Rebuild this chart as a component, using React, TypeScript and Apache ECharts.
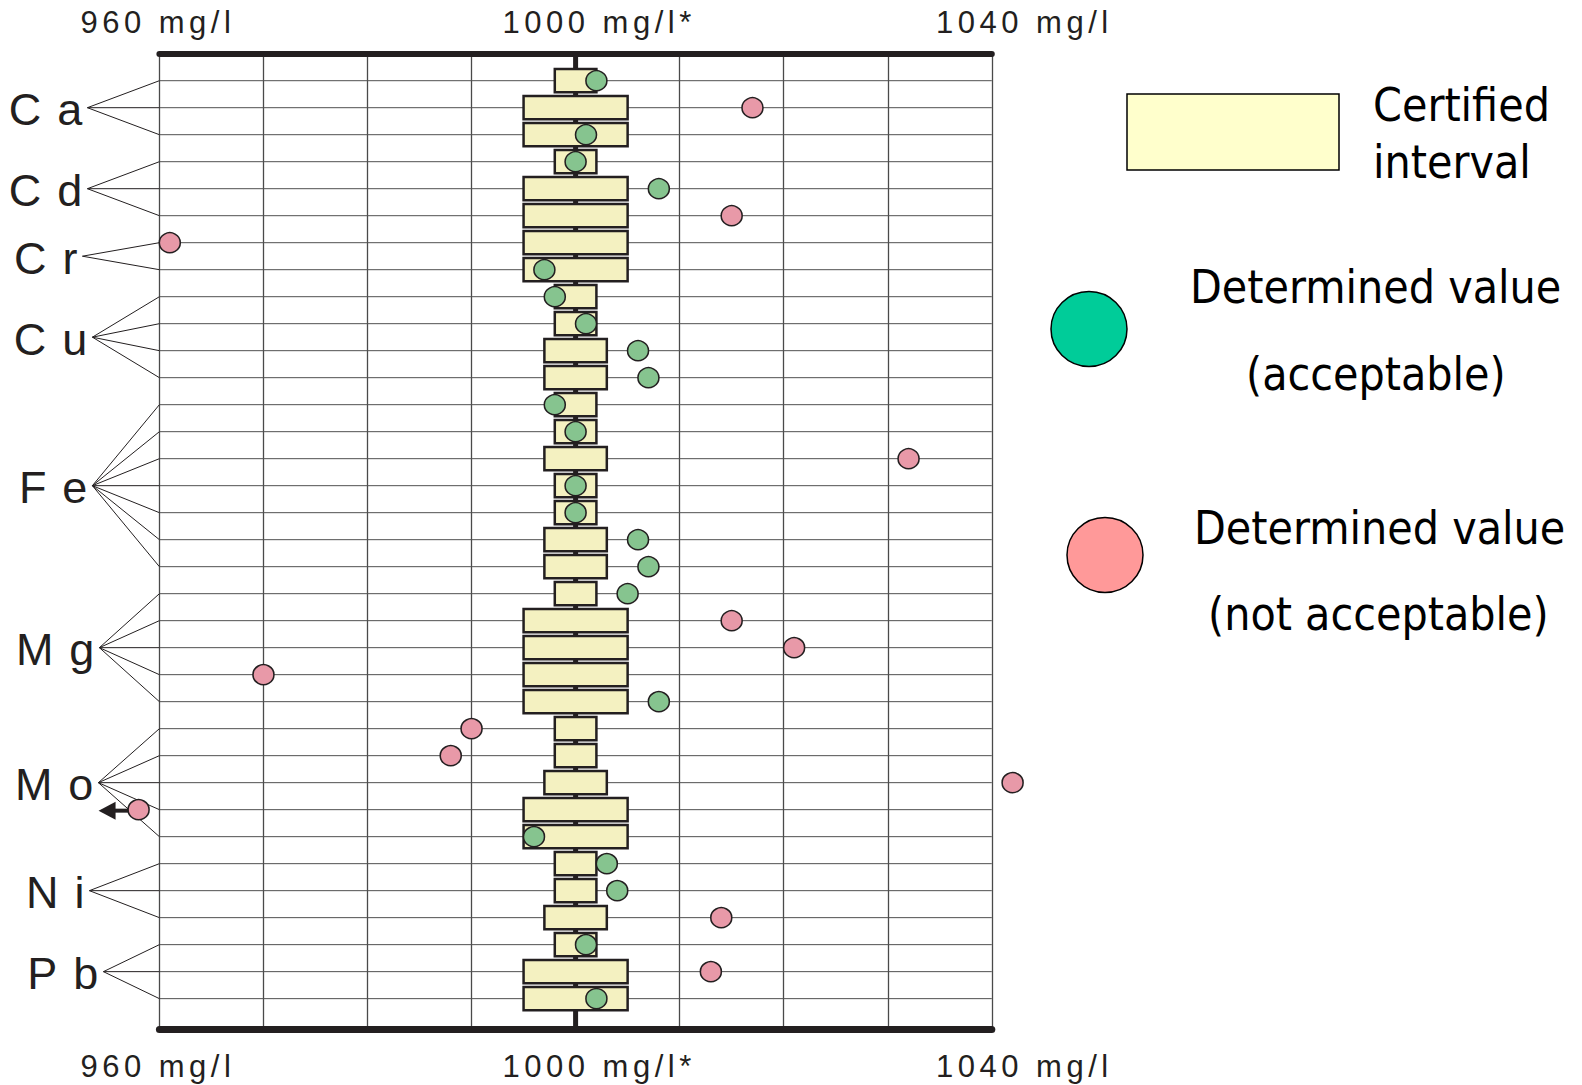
import React, { useEffect, useRef } from 'react';
import * as echarts from 'echarts';

// ---- data -------------------------------------------------------------
const ELEMENTS = ['Ca', 'Cd', 'Cr', 'Cu', 'Fe', 'Mg', 'Mo', 'Ni', 'Pb'];
const SAMPLES_PER_ELEMENT = [3, 3, 2, 4, 7, 5, 5, 3, 3];

const CERTIFIED_VALUE = 1000;
// half width (mg/l) of the certified interval, one entry per sample row
const CERTIFIED_HALF_WIDTH = [
  2, 5, 5,
  2, 5, 5,
  5, 5,
  2, 2, 3, 3,
  2, 2, 3, 2, 2, 3, 3,
  2, 5, 5, 5, 5,
  2, 2, 3, 5, 5,
  2, 2, 3,
  2, 5, 5,
];
// determined concentration (mg/l), one entry per sample row
const DETERMINED_VALUES = [
  1002, 1017, 1001,
  1000, 1008, 1015,
  961, 997,
  998, 1001, 1006, 1007,
  998, 1000, 1032, 1000, 1000, 1006, 1007,
  1005, 1015, 1021, 970, 1008,
  990, 988, 1042, 958, 996,
  1003, 1004, 1014,
  1001, 1013, 1002,
];
// 1 = acceptable, 0 = not acceptable
const ACCEPTABLE = [
  1, 0, 1,
  1, 1, 0,
  0, 1,
  1, 1, 1, 1,
  1, 1, 0, 1, 1, 1, 1,
  1, 0, 0, 0, 1,
  0, 0, 0, 0, 1,
  1, 1, 0,
  1, 0, 1,
];

const TICK_VALUES = [960, 1000, 1040];
const TICK_LABELS = ['960 mg/l', '1000 mg/l*', '1040 mg/l'];

const LEGEND_CERTIFIED = ['Certified', 'interval'];
const LEGEND_ACCEPTABLE = ['Determined value', '(acceptable)'];
const LEGEND_REJECTED = ['Determined value', '(not acceptable)'];

// ---- layout & style ---------------------------------------------------
const WIDTH = 1582;
const HEIGHT = 1085;
const GRID = { left: 159.4, top: 53.7, width: 832.4, height: 976 };
const X_MIN = 960;
const X_MAX = 1040;
const X_STEP = 10;
const Y_MIN = -1;
const Y_MAX = 35.15;

const INK = '#231f20';
const BOX_FILL = '#f4f1c1';
const DOT_GREEN = '#86c48f';
const DOT_PINK = '#e899a8';
const LEGEND_GREEN = '#00cc99';
const LEGEND_PINK = '#ff9999';
const LEGEND_BOX = '#ffffcc';

const AXIS_FONT_FAMILY = "'Liberation Sans Narrow', 'Liberation Sans', Arial, sans-serif";
const AXIS_FONT_SIZE = 31;
const ELEMENT_FONT = "45px 'Liberation Sans Narrow', 'Liberation Sans', Arial, sans-serif";
const LEGEND_FONT = "46px 'DejaVu Sans Condensed', 'DejaVu Sans', Verdana, sans-serif";

const AXIS_LETTER_SPACING = 4.5;
const ELEMENT_LETTER_SPACING = 16;

// horizontal distance (px) from the plot edge to the apex of each element's fan
const FAN_REACH = [72, 72, 77, 67, 67, 60, 61, 70, 56];
const LABEL_GAP = 5;
// shift (px) of each tick label's centre away from its tick
const TICK_SHIFT = [-1.5, 23.5, 32.5];

const BOX_HEIGHT_RATIO = 0.86;
const DOT_SIZE = [21, 20];

const CSS = `
.cert-chart text[style*="Narrow"][style*="${AXIS_FONT_SIZE}px"] { letter-spacing: ${AXIS_LETTER_SPACING}px; }
.cert-chart text[style*="Narrow"][style*="45px"] { letter-spacing: ${ELEMENT_LETTER_SPACING}px; }
`;

function buildOption(): any {
  const rowCount = CERTIFIED_HALF_WIDTH.length;
  const rows = Array.from({ length: rowCount }, (_, i) => i);

  const boxData = rows.map((r) => [
    CERTIFIED_VALUE - CERTIFIED_HALF_WIDTH[r],
    r,
    CERTIFIED_VALUE + CERTIFIED_HALF_WIDTH[r],
  ]);

  let start = 0;
  const groupData = SAMPLES_PER_ELEMENT.map((n) => {
    const item = [X_MIN, start, start + n - 1];
    start += n;
    return item;
  });

  const okData = rows.filter((r) => ACCEPTABLE[r]).map((r) => [DETERMINED_VALUES[r], r]);
  const badData = rows.filter((r) => !ACCEPTABLE[r]).map((r) => [DETERMINED_VALUES[r], r]);
  const belowScale = rows
    .filter((r) => DETERMINED_VALUES[r] < X_MIN)
    .map((r) => [DETERMINED_VALUES[r], r]);

  const rich: any = {};
  TICK_LABELS.forEach((_, i) => {
    const s = TICK_SHIFT[i];
    rich['t' + i] = {
      fontFamily: AXIS_FONT_FAMILY,
      fontSize: AXIS_FONT_SIZE,
      color: INK,
      padding: s >= 0 ? [0, 0, 0, 2 * s] : [0, -2 * s, 0, 0],
    };
  });
  const tickFormatter = (v: number) => {
    const i = TICK_VALUES.indexOf(v);
    return i < 0 ? '' : `{t${i}|${TICK_LABELS[i]}}`;
  };

  const xAxisBase = {
    type: 'value',
    min: X_MIN,
    max: X_MAX,
    interval: X_STEP,
    axisTick: { show: false },
  };

  const legendText = (text: string, x: number, y: number) => ({
    type: 'text',
    x,
    y,
    style: {
      text,
      font: LEGEND_FONT,
      fill: '#000',
      textAlign: 'left',
      textVerticalAlign: 'middle',
      align: 'left',
      verticalAlign: 'middle',
    },
  });

  return {
    animation: false,
    backgroundColor: '#ffffff',
    grid: { ...GRID, containLabel: false, outerBoundsMode: 'none' },
    xAxis: [
      {
        ...xAxisBase,
        position: 'bottom',
        axisLine: { show: true, onZero: false, lineStyle: { color: INK, width: 7 } },
        splitLine: { show: true, lineStyle: { color: '#4a4a4a', width: 1.3 } },
        axisLabel: { show: true, margin: 21, formatter: tickFormatter, rich },
      },
      {
        ...xAxisBase,
        position: 'top',
        axisLine: { show: true, onZero: false, lineStyle: { color: INK, width: 6 } },
        splitLine: { show: false },
        axisLabel: { show: true, margin: 16, formatter: tickFormatter, rich },
      },
    ],
    yAxis: {
      type: 'value',
      min: Y_MIN,
      max: Y_MAX,
      inverse: true,
      show: false,
      splitLine: { show: false },
    },
    graphic: [
      {
        type: 'rect',
        shape: { x: 1127, y: 94, width: 212, height: 76 },
        style: { fill: LEGEND_BOX, stroke: '#000', lineWidth: 1.5 },
      },
      legendText(LEGEND_CERTIFIED[0], 1373, 105),
      legendText(LEGEND_CERTIFIED[1], 1373, 162),
      {
        type: 'ellipse',
        shape: { cx: 1089, cy: 329, rx: 38, ry: 37.5 },
        style: { fill: LEGEND_GREEN, stroke: '#000', lineWidth: 1.5 },
      },
      legendText(LEGEND_ACCEPTABLE[0], 1190, 287),
      legendText(LEGEND_ACCEPTABLE[1], 1246, 374),
      {
        type: 'ellipse',
        shape: { cx: 1105, cy: 555, rx: 38, ry: 37.5 },
        style: { fill: LEGEND_PINK, stroke: '#000', lineWidth: 1.5 },
      },
      legendText(LEGEND_REJECTED[0], 1194, 528),
      legendText(LEGEND_REJECTED[1], 1208, 614),
    ],
    series: [
      // one thin line per sample row
      {
        type: 'custom',
        z: 1,
        silent: true,
        data: rows.map((r) => [X_MIN, r]),
        renderItem: (_p: any, api: any) => {
          const r = api.value(1);
          const a = api.coord([X_MIN, r]);
          const b = api.coord([X_MAX, r]);
          return {
            type: 'line',
            shape: { x1: a[0], y1: a[1], x2: b[0], y2: b[1] },
            style: { stroke: '#505050', lineWidth: 1 },
          };
        },
      },
      // certified value spine
      {
        type: 'line',
        z: 2,
        silent: true,
        symbol: 'none',
        data: [
          [CERTIFIED_VALUE, Y_MIN],
          [CERTIFIED_VALUE, Y_MAX],
        ],
        lineStyle: { color: INK, width: 5 },
      },
      // certified intervals
      {
        type: 'custom',
        name: 'Certified interval',
        z: 3,
        data: boxData,
        encode: { x: [0, 2], y: 1 },
        renderItem: (_p: any, api: any) => {
          const lo = api.coord([api.value(0), api.value(1)]);
          const hi = api.coord([api.value(2), api.value(1)]);
          const h = api.size([0, 1])[1] * BOX_HEIGHT_RATIO;
          return {
            type: 'rect',
            shape: { x: lo[0], y: lo[1] - h / 2, width: hi[0] - lo[0], height: h },
            style: { fill: BOX_FILL, stroke: INK, lineWidth: 2.5 },
          };
        },
      },
      // element labels with fans to their sample rows
      {
        type: 'custom',
        z: 3,
        silent: true,
        clip: false,
        data: groupData,
        renderItem: (p: any, api: any) => {
          const first = api.value(1);
          const last = api.value(2);
          const top = api.coord([X_MIN, first]);
          const bottom = api.coord([X_MIN, last]);
          const edge = top[0];
          const apexX = edge - FAN_REACH[p.dataIndex];
          const apexY = (top[1] + bottom[1]) / 2;
          const children: any[] = [];
          for (let r = first; r <= last; r++) {
            const y = api.coord([X_MIN, r])[1];
            children.push({
              type: 'line',
              shape: { x1: apexX, y1: apexY, x2: edge, y2: y },
              style: { stroke: INK, lineWidth: 1 },
            });
          }
          children.push({
            type: 'text',
            style: {
              text: ELEMENTS[p.dataIndex],
              x: apexX - LABEL_GAP + ELEMENT_LETTER_SPACING,
              y: apexY + 2,
              font: ELEMENT_FONT,
              fill: INK,
              align: 'right',
              verticalAlign: 'middle',
              textAlign: 'right',
              textVerticalAlign: 'middle',
            },
          });
          return { type: 'group', children };
        },
      },
      // arrows marking values below the scale
      {
        type: 'custom',
        z: 4,
        silent: true,
        clip: false,
        data: belowScale,
        renderItem: (_p: any, api: any) => {
          const c = api.coord([api.value(0), api.value(1)]);
          const x = c[0];
          const y = c[1] + 1;
          return {
            type: 'group',
            children: [
              {
                type: 'rect',
                shape: { x: x - 25, y: y - 2, width: 15, height: 4 },
                style: { fill: INK },
              },
              {
                type: 'polygon',
                shape: {
                  points: [
                    [x - 40, y],
                    [x - 23, y - 9],
                    [x - 23, y + 9],
                  ],
                },
                style: { fill: INK },
              },
            ],
          };
        },
      },
      {
        type: 'scatter',
        name: 'Determined value (acceptable)',
        z: 5,
        clip: false,
        symbol: 'circle',
        symbolSize: DOT_SIZE,
        data: okData,
        itemStyle: { color: DOT_GREEN, borderColor: INK, borderWidth: 1.5, opacity: 1 },
      },
      {
        type: 'scatter',
        name: 'Determined value (not acceptable)',
        z: 5,
        clip: false,
        symbol: 'circle',
        symbolSize: DOT_SIZE,
        data: badData,
        itemStyle: { color: DOT_PINK, borderColor: INK, borderWidth: 1.5, opacity: 1 },
      },
    ],
  };
}

export default function App() {
  const ref = useRef<HTMLDivElement>(null);

  useEffect(() => {
    if (!ref.current) return;
    const chart = echarts.init(ref.current, null, {
      renderer: 'svg',
      width: WIDTH,
      height: HEIGHT,
    });
    chart.setOption(buildOption());
    return () => chart.dispose();
  }, []);

  return (
    <>
      <style>{CSS}</style>
      <div
        ref={ref}
        className="cert-chart"
        style={{
          position: 'fixed',
          left: 0,
          top: 0,
          width: WIDTH,
          height: HEIGHT,
          background: '#ffffff',
        }}
      />
    </>
  );
}
